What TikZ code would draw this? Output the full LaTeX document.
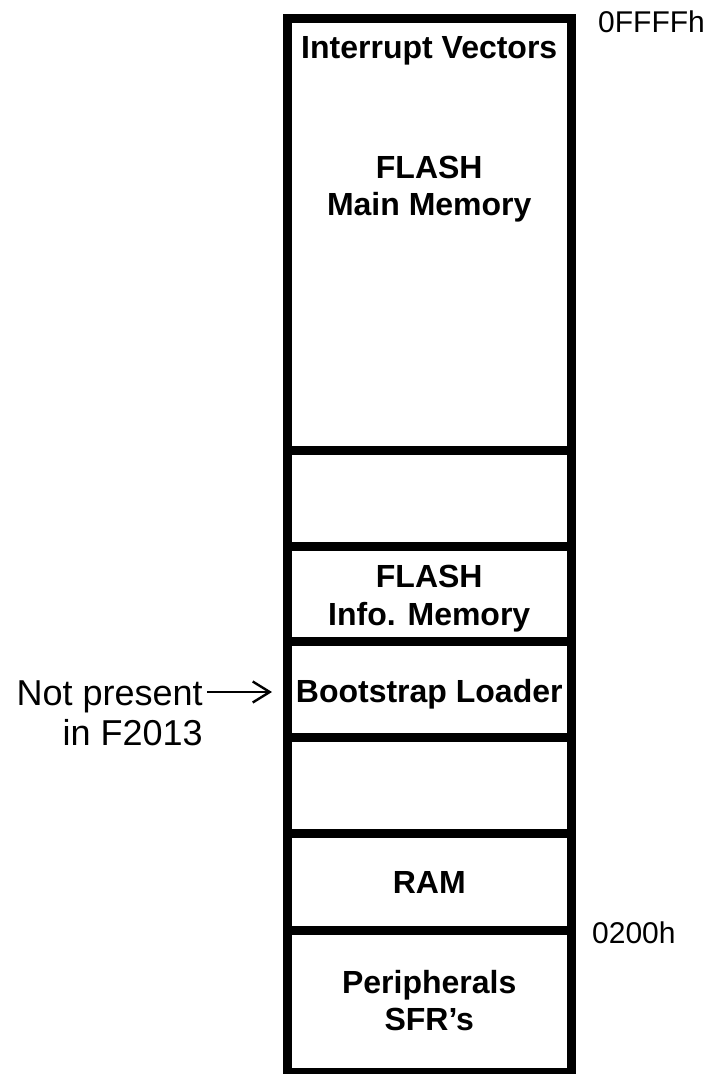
\documentclass[tikz,border=0pt]{standalone}
\usepackage{fontspec}
\setmainfont{Liberation Sans}
\usetikzlibrary{arrows.meta}
\begin{document}
\begin{tikzpicture}[x=1pt,y=-1pt,
  region/.style={draw=black, line width=9pt, minimum width=283.5pt,
                 inner sep=0pt, outer sep=0pt},
  lbl/.style={font=\bfseries\fontsize{32}{37}\selectfont, align=center,
              anchor=base, inner sep=0pt},
  addr/.style={font=\fontsize{30}{36}\selectfont, anchor=base west, inner sep=0pt},
  note/.style={font=\fontsize{36}{42}\selectfont, anchor=base east, inner sep=0pt,
               text height=26pt, text depth=0pt},
  pointer/.style={line width=2.4pt, -{Straight Barb[length=17pt,width=21pt,line width=2.4pt]}}
]
\useasboundingbox (0,0) rectangle (716,1074);

% memory map, stacked from the top address down
\node[region, minimum height=431.5pt] (flash)  at (429.25,234.25) {};
\node[region, minimum height=96.5pt]  (gapA)   at (429.25,498.25) {};
\node[region, minimum height=94.5pt]  (info)   at (429.25,593.75) {};
\node[region, minimum height=96pt]    (boot)   at (429.25,689)    {};
\node[region, minimum height=96pt]    (gapB)   at (429.25,785)    {};
\node[region, minimum height=97pt]    (ram)    at (429.25,881.5)  {};
\node[region, minimum height=142pt]   (periph) at (429.25,1001)   {};

% region labels
\node[lbl] (vec)    at (429.25,58)  {Interrupt Vectors};
\node[lbl] (flashA) at (429.25,178) {FLASH};
\node[lbl] (flashB) at (429.25,215) {Main Memory};
\node[lbl] (infoA)  at (429.25,587) {FLASH};
\node[lbl] (infoB)  at (429.25,625) {Info. Memory};
\node[lbl] (bootL)  at (429.25,702) {Bootstrap Loader};
\node[lbl] (ramL)   at (429.25,893) {RAM};
\node[lbl] (perA)   at (429.25,993) {Peripherals};
\node[lbl] (perB)   at (429.25,1030) {SFR’s};

% addresses
\node[addr] (top)  at (598,32)  {0FFFFh};
\node[addr] (base) at (592,943) {0200h};

% side note
\node[note] (noteA) at (203,705) {Not present};
\node[note] (noteB) at (203,745) {in F2013};
\draw[pointer, shorten <=4pt, shorten >=15.5pt] (noteA.east) -- (noteA.east -| boot.west);
\end{tikzpicture}
\end{document}
